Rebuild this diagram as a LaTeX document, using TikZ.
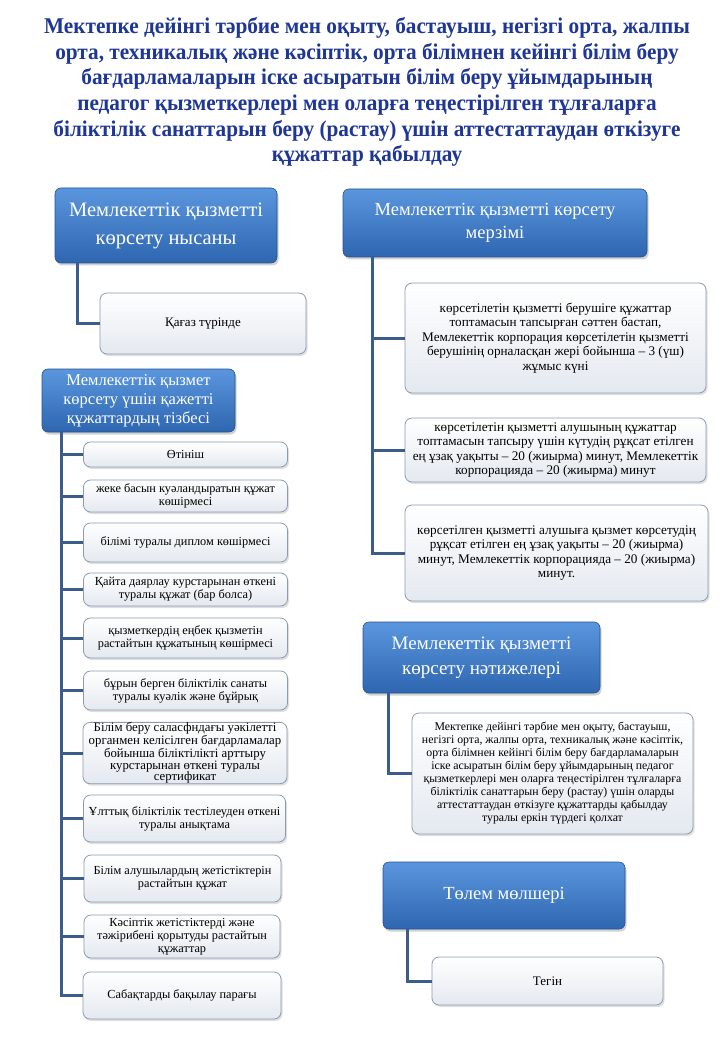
\documentclass[tikz,border=0pt]{standalone}
\usepackage{fontspec}
\setmainfont{Liberation Serif}[BoldFont={Liberation Serif Bold}]
\newfontfamily\ttlfont{Liberation Serif Bold}[FakeStretch=0.945]
\usetikzlibrary{shadows}
\definecolor{titleblue}{RGB}{30,54,150}
\definecolor{hdrtop}{RGB}{90,150,222}
\definecolor{hdrbot}{RGB}{46,102,176}
\definecolor{hdrline}{RGB}{40,82,140}
\definecolor{connc}{RGB}{60,92,140}
\definecolor{boxline}{RGB}{140,155,178}
\definecolor{boxbot}{RGB}{228,233,240}
\tikzset{
  hdr/.style={rounded corners=6pt, draw=hdrline, line width=0.6pt,
    top color=hdrtop, bottom color=hdrbot, text=white, align=center, inner sep=0pt,
    drop shadow={opacity=0.35, shadow xshift=1.5pt, shadow yshift=-2.5pt}},
  cbox/.style={rounded corners=7pt, draw=boxline, line width=0.8pt,
    top color=white, bottom color=boxbot, text=black, align=center, inner sep=0pt,
    drop shadow={opacity=0.25, shadow xshift=1.5pt, shadow yshift=-2pt}},
  conn/.style={draw=connc, line width=3pt, line join=miter},
  ttl/.style={text=titleblue, align=center, inner sep=0pt,
    font=\ttlfont\fontsize{22.5}{25.6}\selectfont},
}
\begin{document}
\begin{tikzpicture}[x=1pt,y=-1pt]
\useasboundingbox (0,0) rectangle (720,1040);
\fill[white] (0,0) rectangle (720,1040);

\node[ttl] (title) at (367,92) {Мектепке  дейінгі  тәрбие  мен  оқыту,  бастауыш,  негізгі  орта,  жалпы\\
орта,  техникалық  және  кәсіптік,  орта  білімнен  кейінгі  білім  беру\\
бағдарламаларын  іске  асыратын  білім  беру  ұйымдарының\\
педагог қызметкерлері  мен  оларға  теңестірілген  тұлғаларға\\
біліктілік  санаттарын  беру  (растау)  үшін  аттестаттаудан  өткізуге\\
құжаттар  қабылдау};

% headers
\node[hdr, minimum width=222, minimum height=75, font=\fontsize{20.5}{28}\selectfont] (h1) at (166,225.5) {Мемлекеттік  қызметті\\көрсету  нысаны};
\node[hdr, minimum width=304, minimum height=68, font=\fontsize{18.5}{23}\selectfont] (h2) at (495,223) {Мемлекеттік  қызметті көрсету\\мерзімі};
\node[hdr, minimum width=193, minimum height=63, font=\fontsize{16.5}{19}\selectfont] (h3) at (138.5,400.5) {Мемлекеттік  қызмет\\көрсету  үшін  қажетті\\құжаттардың тізбесі};
\node[hdr, minimum width=237, minimum height=71, font=\fontsize{19}{25}\selectfont] (h4) at (481.5,657.5) {Мемлекеттік  қызметті\\көрсету нәтижелері};
\node[hdr, minimum width=242, minimum height=67, font=\fontsize{18.5}{22}\selectfont] (h5) at (504,895.5) {Төлем мөлшері};

% children
\node[cbox, minimum width=206, minimum height=61, font=\fontsize{13}{14}\selectfont] (kag) at (203,323.5) {Қағаз түрінде};

\node[cbox, minimum width=301, minimum height=110, font=\fontsize{13.2}{14.4}\selectfont] (m1) at (555.5,338) {көрсетілетін  қызметті  берушіге құжаттар\\топтамасын тапсырған сәттен  бастап,\\Мемлекеттік  корпорация көрсетілетін  қызметті\\берушінің орналасқан жері бойынша – 3 (үш)\\жұмыс күні};
\node[cbox, minimum width=301, minimum height=64, font=\fontsize{13.2}{14.2}\selectfont] (m2) at (555.5,450) {көрсетілетін  қызметті  алушының құжаттар\\топтамасын тапсыру үшін күтудің рұқсат етілген\\ең ұзақ уақыты – 20  (жиырма) минут, Мемлекеттік\\корпорацияда – 20 (жиырма) минут};
\node[cbox, minimum width=303, minimum height=96, font=\fontsize{13.2}{14.4}\selectfont] (m3) at (556.5,553) {көрсетілген қызметті алушыға қызмет көрсетудің\\рұқсат етілген  ең ұзақ уақыты – 20 (жиырма)\\минут, Мемлекеттік  корпорацияда – 20 (жиырма)\\минут.};

\node[cbox, minimum width=281, minimum height=121, font=\fontsize{11.8}{13}\selectfont] (res) at (552.5,773.5) {Мектепке дейінгі  тәрбие мен  оқыту, бастауыш,\\негізгі орта, жалпы орта, техникалық  және кәсіптік,\\орта білімнен  кейінгі  білім  беру бағдарламаларын\\іске  асыратын білім  беру ұйымдарының педагог\\қызметкерлері мен  оларға теңестірілген  тұлғаларға\\біліктілік  санаттарын  беру (растау) үшін  оларды\\аттестаттаудан  өткізуге құжаттарды қабылдау\\туралы еркін түрдегі қолхат};

\node[cbox, minimum width=231, minimum height=48, font=\fontsize{13}{14}\selectfont] (teg) at (547.5,981) {Тегін};

% list
\tikzset{lbox/.style={cbox, font=\fontsize{12.3}{13}\selectfont}}
\node[lbox, minimum width=204, minimum height=25] (l1) at (185.5,454.5) {Өтініш};
\node[lbox, minimum width=204, minimum height=32] (l2) at (185.5,496) {жеке  басын  куәландыратын құжат\\көшірмесі};
\node[lbox, minimum width=204, minimum height=39] (l3) at (185.5,542.5) {білімі  туралы диплом  көшірмесі};
\node[lbox, minimum width=204, minimum height=33] (l4) at (185.5,589.5) {Қайта  даярлау курстарынан өткені\\туралы құжат (бар болса)};
\node[lbox, minimum width=204, minimum height=40] (l5) at (185.5,638) {қызметкердің  еңбек  қызметін\\растайтын  құжатының  көшірмесі};
\node[lbox, minimum width=204, minimum height=39] (l6) at (185.5,690.5) {бұрын берген біліктілік  санаты\\туралы куәлік және бұйрық};
\node[lbox, minimum width=204, minimum height=60, font=\fontsize{12.8}{11.8}\selectfont] (l7) at (185,753) {Білім беру саласфндағы уәкілетті\\органмен келісілген  бағдарламалар\\бойынша  біліктілікті арттыру\\курстарынан өткені туралы\\сертификат};
\node[lbox, minimum width=202, minimum height=47] (l8) at (184.5,818.5) {Ұлттық  біліктілік  тестілеуден  өткені\\туралы анықтама};
\node[lbox, minimum width=197, minimum height=47] (l9) at (182.5,878.5) {Білім  алушылардың жетістіктерін\\растайтын  құжат};
\node[lbox, minimum width=196, minimum height=43] (l10) at (182,936.5) {Кәсіптік  жетістіктерді  және\\тәжірибені  қорытуды растайтын\\құжаттар};
\node[lbox, minimum width=198, minimum height=47] (l11) at (182,995.5) {Сабақтарды бақылау парағы};

% connectors
\draw[conn] ([xshift=23pt]h1.south west) |- (kag.west);
\foreach \c in {m1,m2,m3}{\draw[conn] ([xshift=30pt]h2.south west) |- (\c.west);}
\draw[conn] ([xshift=26pt]h4.south west) |- (res.west);
\draw[conn] ([xshift=25pt]h5.south west) |- (teg.west);
\foreach \c in {l1,l2,l3,l4,l5,l6,l7,l8,l9,l10,l11}{\draw[conn] ([xshift=20pt]h3.south west) |- (\c.west);}
\end{tikzpicture}
\end{document}
